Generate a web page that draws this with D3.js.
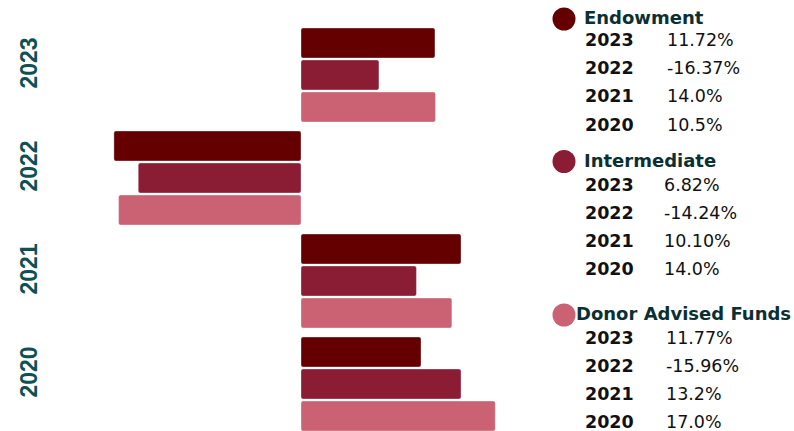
<!DOCTYPE html>
<html>
<head>
<meta charset="utf-8">
<script src="https://cdn.jsdelivr.net/npm/d3@7"></script>
<style>
  body { margin: 0; background: #fff; }
  svg { display: block; }
</style>
</head>
<body>
<div id="chart"></div>
<script>
// Chart data
var years = ["2023", "2022", "2021", "2020"];
var seriesNames = ["Endowment", "Intermediate", "Donor Advised Funds"];
var endowment = [11.72, -16.37, 14.0, 10.5];
var intermediate = [6.82, -14.24, 10.10, 14.0];
var donorAdvised = [11.77, -15.96, 13.2, 17.0];
var endowmentLabels = ["11.72%", "-16.37%", "14.0%", "10.5%"];
var intermediateLabels = ["6.82%", "-14.24%", "10.10%", "14.0%"];
var donorAdvisedLabels = ["11.77%", "-15.96%", "13.2%", "17.0%"];

var colors = ["#640000", "#8a1c33", "#cb6273"];

var svgWidth = 794;
var svgHeight = 431;

var svg = d3.select("#chart")
    .append("svg")
    .attr("width", svgWidth)
    .attr("height", svgHeight);

// build rows: one per year, one value per series
var allValues = [endowment, intermediate, donorAdvised];
var rows = years.map(function(y, i) {
    return {
        year: y,
        values: seriesNames.map(function(s, j) {
            return { series: s, value: allValues[j][i], color: colors[j] };
        })
    };
});

// x scale, zero sits at 301
var xScale = d3.scaleLinear()
    .domain([-20, 20])
    .range([72.4, 529.6]);

// outer band for years, inner band for series
var yScale = d3.scaleBand()
    .domain(years)
    .range([28, 431])
    .paddingInner(9 / 103)
    .paddingOuter(0);

var yInner = d3.scaleBand()
    .domain(seriesNames)
    .range([0, yScale.bandwidth()])
    .paddingInner(2 / 32);

var groups = svg.selectAll("g.year")
    .data(rows)
    .enter()
    .append("g")
    .classed("year", true)
    .attr("transform", d => `translate(0, ${yScale(d.year)})`);

groups.selectAll("rect")
    .data(d => d.values)
    .enter()
    .append("rect")
    .attr("x", d => xScale(Math.min(0, d.value)))
    .attr("y", d => yInner(d.series))
    .attr("width", d => Math.abs(xScale(d.value) - xScale(0)))
    .attr("height", yInner.bandwidth())
    .attr("rx", 2)
    .attr("fill", d => d.color)
    .attr("stroke", "rgba(255,255,255,0.35)")
    .attr("stroke-width", 1);

// year labels on the left, rotated
svg.selectAll("text.year-label")
    .data(years)
    .enter()
    .append("text")
    .classed("year-label", true)
    .attr("transform", d => `translate(37, ${yScale(d) + yScale.bandwidth() / 2 - 12}) rotate(-90)`)
    .attr("text-anchor", "middle")
    .attr("font-family", "'Liberation Sans', Arial, sans-serif")
    .attr("font-weight", "bold")
    .attr("font-size", "23px")
    .attr("fill", "#0d5056")
    .text(d => d);

// legend blocks
var legend = [
    { name: "Endowment", color: colors[0], cy: 19, titleX: 584, titleY: 23.5, rowY: 45.7, valueX: 667, labels: endowmentLabels },
    { name: "Intermediate", color: colors[1], cy: 161.5, titleX: 584, titleY: 167.3, rowY: 190.5, valueX: 664, labels: intermediateLabels },
    { name: "Donor Advised Funds", color: colors[2], cy: 315, titleX: 576, titleY: 320, rowY: 343.5, valueX: 666, labels: donorAdvisedLabels }
];

var font = "'DejaVu Sans', sans-serif";

legend.forEach(function(l) {
    var g = svg.append("g");
    g.append("circle")
        .attr("cx", 564)
        .attr("cy", l.cy)
        .attr("r", 11.5)
        .attr("fill", l.color);
    g.append("text")
        .attr("x", l.titleX)
        .attr("y", l.titleY)
        .attr("font-family", font)
        .attr("font-weight", "bold")
        .attr("font-size", "18px")
        .attr("fill", "#0b3033")
        .text(l.name)
        .each(function() {
            // keep the long title inside the right edge
            var w = this.getComputedTextLength();
            var room = svgWidth - l.titleX - 1;
            if (w > room) d3.select(this).attr("textLength", room).attr("lengthAdjust", "spacingAndGlyphs");
        });
    years.forEach(function(y, i) {
        var by = l.rowY + i * 28.3;
        g.append("text")
            .attr("x", 585)
            .attr("y", by)
            .attr("font-family", font)
            .attr("font-weight", "bold")
            .attr("font-size", "17.5px")
            .attr("fill", "#111")
            .text(y);
        g.append("text")
            .attr("x", l.valueX)
            .attr("y", by)
            .attr("font-family", font)
            .attr("font-size", "17.5px")
            .attr("fill", "#111")
            .text(l.labels[i]);
    });
});
</script>
</body>
</html>
